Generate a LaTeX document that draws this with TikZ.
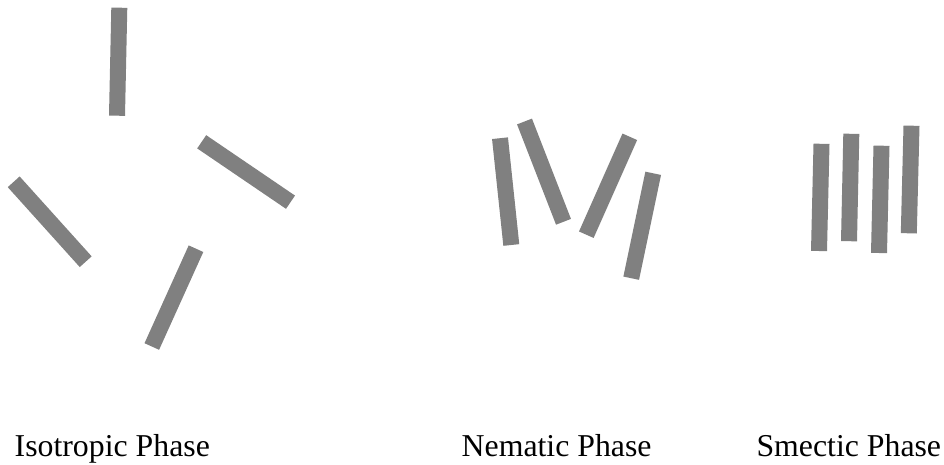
\documentclass[tikz,border=0pt]{standalone}
\usepackage{fontspec}
\setmainfont{Liberation Serif}
\definecolor{rodgray}{RGB}{128,128,128}
\begin{document}
\begin{tikzpicture}[x=1pt,y=-1pt,
  rod/.style={draw=rodgray,line width=16pt,line cap=butt},
  phaselabel/.style={anchor=base west,inner sep=0pt,font=\fontsize{31.8}{38}\selectfont}]
\useasboundingbox (0,0) rectangle (944,465);
% Isotropic phase
\draw[rod] (119.3,7.7) -- (117,115.7);
\draw[rod] (201.7,141.8) -- (290.5,202.2);
\draw[rod] (13.7,181.8) -- (85.7,261.7);
\draw[rod] (196,248.7) -- (151.8,346.5);
% Nematic phase
\draw[rod] (500,138.2) -- (511.3,245);
\draw[rod] (524.5,121.5) -- (563.5,221.8);
\draw[rod] (629.8,136.8) -- (586.3,234.7);
\draw[rod] (653.2,173.3) -- (631.2,278.2);
% Smectic phase
\draw[rod] (821.5,143.8) -- (819,251);
\draw[rod] (851.3,133.8) -- (849,241.2);
\draw[rod] (881.5,145.7) -- (879,253);
\draw[rod] (911.5,125.7) -- (908.8,233.3);
% Labels
\node[phaselabel] (iso) at (14.5,456.7) {Isotropic Phase};
\node[phaselabel] (nem) at (461.5,456.7) {Nematic Phase};
\node[phaselabel] (sme) at (756.3,456.7) {Smectic Phase};
\end{tikzpicture}
\end{document}
